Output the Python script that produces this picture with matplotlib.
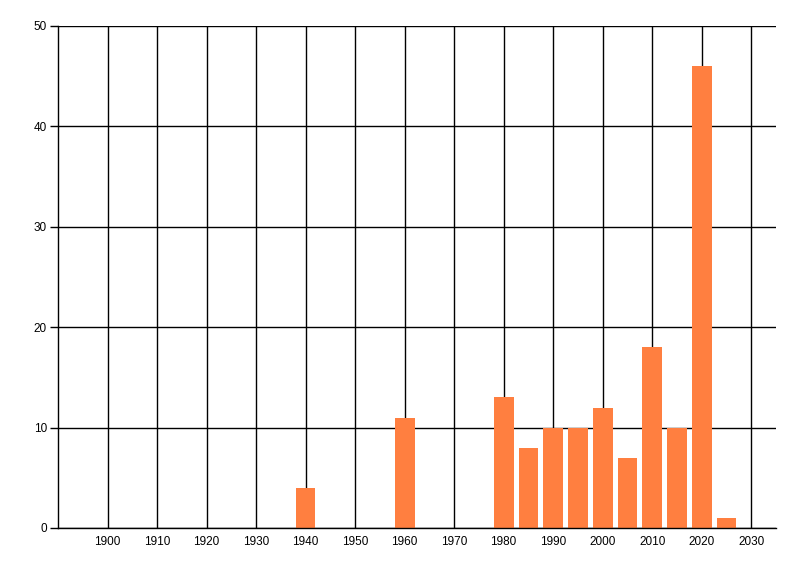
import matplotlib
matplotlib.use('Agg')
from matplotlib import pyplot as plt

years = [1940, 1960, 1980, 1985, 1990, 1995, 2000, 2005, 2010, 2015, 2020, 2025]
counts = [4, 11, 13, 8, 10, 10, 12, 7, 18, 10, 46, 1]
xticks = list(range(1900, 2031, 10))
yticks = [0, 10, 20, 30, 40, 50]

plt.rcParams['font.family'] = ['Liberation Sans', 'DejaVu Sans']

fig = plt.figure(figsize=(8, 5.76), dpi=100)
ax = fig.add_axes([58/800, 1 - 528/576, (776 - 58)/800, (528 - 26)/576])

ax.bar(years, counts, width=4, color='#ff7f40', zorder=3)

ax.set_xlim(1890, 2035)
ax.set_ylim(0, 50)
ax.set_xticks(xticks)
ax.set_yticks(yticks)
ax.grid(True, color='black', linewidth=1, zorder=0)

for side in ('top', 'right'):
    ax.spines[side].set_visible(False)
for side in ('left', 'bottom'):
    ax.spines[side].set_linewidth(1)
    ax.spines[side].set_zorder(4)

ax.tick_params(axis='x', length=0, pad=6, labelsize=8.5)
ax.tick_params(axis='y', length=6, width=1, pad=2, labelsize=8.5)

plt.savefig('out.png', dpi=100)
